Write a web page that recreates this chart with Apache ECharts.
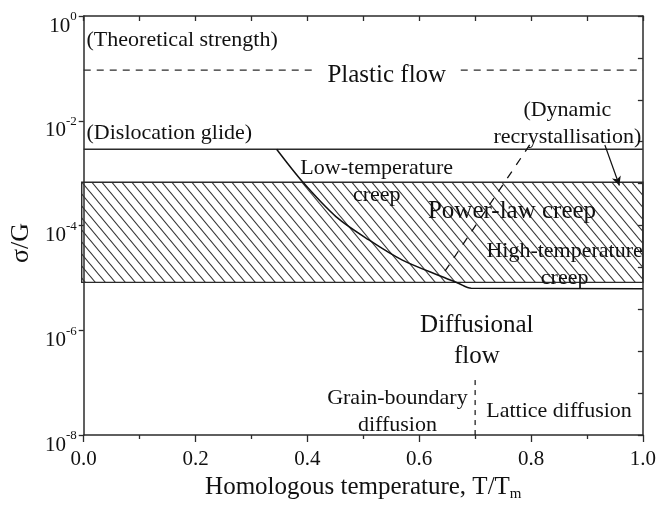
<!DOCTYPE html>
<html>
<head>
<meta charset="utf-8">
<script src="https://cdn.jsdelivr.net/npm/echarts@6/dist/echarts.min.js"></script>
<style>
  html, body { margin: 0; padding: 0; background: #fff; }
  #chart { width: 659px; height: 508px; }
</style>
</head>
<body>
<div id="chart"></div>
<script>
// Deformation-mechanism map: normalised stress sigma/G vs homologous temperature T/Tm

// x tick labels (homologous temperature)
const xTicks = [0.0, 0.2, 0.4, 0.6, 0.8, 1.0];

// Stress levels of the horizontal boundaries (sigma/G)
const theoreticalStrength = 0.093;
const glideLimit = 2.85e-3;

// Power-law creep field (hatched band): temperature range and stress range
const creepBandT = [0, 1];
const creepBandS = [8.2e-6, 6.7e-4];

// Boundary between low- and high-temperature creep / diffusional flow
const creepBoundaryT = [0.345, 0.391, 0.451, 0.510, 0.569, 0.640, 0.670, 0.693, 1.0];
const creepBoundaryS = [2.85e-3, 6.89e-4, 1.48e-4, 5.31e-5, 2.21e-5, 1.06e-5, 7.9e-6, 6.35e-6, 6.2e-6];

// Dynamic recrystallisation boundary (dashed)
const recrystT = [0.7975, 0.638];
const recrystS = [3.45e-3, 1.0e-5];

// Arrow from the recrystallisation note to the creep band
const arrowT = [0.932, 0.958];
const arrowS = [3.45e-3, 5.8e-4];

// Grain-boundary / lattice diffusion divide
const diffusionDivideT = [0.7, 0.7];
const diffusionDivideS = [1.12e-7, 1e-8];

// Field names and their anchor points (T/Tm, sigma/G)
const fieldNames = ['(Theoretical strength)', 'Plastic flow', '(Dislocation glide)',
  '(Dynamic\nrecrystallisation)', 'Low-temperature\ncreep', 'Power-law creep',
  'High-temperature\ncreep', 'Diffusional\nflow', 'Grain-boundary\ndiffusion', 'Lattice diffusion'];
const fieldT = [0.005, 0.542, 0.005, 0.865, 0.524, 0.766, 0.860, 0.703, 0.561, 0.850];
const fieldS = [0.348, 0.0748, 5.85e-3, 8.7e-3, 6.95e-4, 1.82e-4, 1.77e-5, 6.28e-7, 2.8e-8, 2.8e-8];
const majorFields = ['Plastic flow', 'Power-law creep', 'Diffusional\nflow'];
const leftAnchored = ['(Theoretical strength)', '(Dislocation glide)'];
const boxedFields = ['Plastic flow'];

const FONT = 'Liberation Serif';
const INK = '#111';
const LINE = '#2b2b2b';

function pairs(xs, ys) { return xs.map((x, i) => [x, ys[i]]); }

// diagonal hatch tile ("\\" stripes)
function hatchTile(w, h, color, lw) {
  const c = document.createElement('canvas');
  c.width = w; c.height = h;
  const ctx = c.getContext('2d');
  ctx.strokeStyle = color;
  ctx.lineWidth = lw;
  [-w, 0, w].forEach(dx => {
    ctx.beginPath();
    ctx.moveTo(dx - w, -h);
    ctx.lineTo(dx + 2 * w, 2 * h);
    ctx.stroke();
  });
  return c;
}
const hatch = { image: hatchTile(10, 12, '#333', 1.1), repeat: 'repeat' };

const chart = echarts.init(document.getElementById('chart'), null, { renderer: 'canvas' });

const labelData = fieldNames.map((name, i) => {
  const big = majorFields.includes(name);
  const left = leftAnchored.includes(name);
  const boxed = boxedFields.includes(name);
  return {
    value: [fieldT[i], fieldS[i]],
    label: {
      show: true,
      formatter: name,
      position: 'inside',
      align: left ? 'left' : 'center',
      verticalAlign: 'middle',
      fontFamily: FONT,
      fontSize: big ? 25 : 22,
      lineHeight: big ? 31 : 27,
      color: INK,
      opacity: 1,
      backgroundColor: boxed ? '#fff' : 'transparent',
      padding: boxed ? [0, 14, 0, 14] : 0
    }
  };
});

chart.setOption({
  animation: false,
  backgroundColor: '#fff',
  grid: { left: 83, right: 13, top: 16, bottom: 73, containLabel: false },
  xAxis: [
    {
      type: 'value', min: 0, max: 1, interval: 0.2, position: 'bottom',
      axisLine: { show: true, onZero: false, lineStyle: { color: LINE, width: 1.5 } },
      axisTick: { show: true, inside: false, length: 7, lineStyle: { color: LINE, width: 1.3 } },
      minorTick: { show: true, splitNumber: 2, length: 4, lineStyle: { color: LINE, width: 1.3 } },
      splitLine: { show: false },
      axisLabel: { formatter: v => v.toFixed(1), fontFamily: FONT, fontSize: 21, color: INK, margin: 14 },
      name: '{a|Homologous temperature, T/T}{m|m}',
      nameLocation: 'middle', nameGap: 38,
      nameTextStyle: {
        rich: {
          a: { fontFamily: FONT, fontSize: 25, color: INK },
          m: { fontFamily: FONT, fontSize: 15, color: INK, padding: [14, 0, 0, 0] }
        }
      }
    },
    {
      type: 'value', min: 0, max: 1, interval: 0.1, position: 'top',
      axisLine: { show: true, onZero: false, lineStyle: { color: LINE, width: 1.5 } },
      axisTick: { show: true, inside: true, length: 5, lineStyle: { color: LINE, width: 1.3 } },
      axisLabel: { show: false }, splitLine: { show: false }
    }
  ],
  yAxis: [
    {
      type: 'log', logBase: 10, min: 1e-8, max: 1, interval: 2, position: 'left',
      axisLine: { show: true, onZero: false, lineStyle: { color: LINE, width: 1.5 } },
      axisTick: { show: true, inside: false, length: 5, lineStyle: { color: LINE, width: 1.3 } },
      minorTick: { show: false },
      splitLine: { show: false },
      axisLabel: {
        margin: 7,
        padding: [20, 0, 0, 0],
        formatter: v => '{b|10}{s|' + Math.round(Math.log10(v)) + '}',
        rich: {
          b: { fontFamily: FONT, fontSize: 21, color: INK },
          s: { fontFamily: FONT, fontSize: 13, color: INK, padding: [0, 0, 18, 0] }
        }
      },
      name: 'σ/G', nameLocation: 'middle', nameGap: 45, nameRotate: 90,
      nameTextStyle: { fontFamily: FONT, fontSize: 26, color: INK, padding: [0, 35, 0, 0] }
    },
    {
      type: 'value', min: 0, max: 10, interval: 1, position: 'right',
      axisLine: { show: true, onZero: false, lineStyle: { color: LINE, width: 1.5 } },
      axisTick: { show: true, inside: true, length: 5, lineStyle: { color: LINE, width: 1.3 } },
      axisLabel: { show: false }, splitLine: { show: false }
    }
  ],
  series: [
    {
      // power-law creep field
      type: 'custom', name: 'Power-law creep field',
      encode: { x: [0, 1], y: [2, 3] },
      data: [[creepBandT[0], creepBandT[1], creepBandS[0], creepBandS[1]]],
      renderItem: (params, api) => {
        const tl = api.coord([api.value(0), api.value(3)]);
        const br = api.coord([api.value(1), api.value(2)]);
        return {
          type: 'rect',
          shape: { x: tl[0] - 2, y: tl[1], width: br[0] - tl[0] + 2, height: br[1] - tl[1] },
          style: { fill: hatch, stroke: LINE, lineWidth: 1.4 }
        };
      },
      z: 2
    },
    {
      type: 'line', name: 'Theoretical strength', showSymbol: false, symbol: 'none',
      data: [[0, theoreticalStrength], [1, theoreticalStrength]],
      lineStyle: { color: LINE, width: 1.3, type: [7, 6] }, z: 3
    },
    {
      type: 'line', name: 'Dislocation glide', showSymbol: false, symbol: 'none',
      data: [[0, glideLimit], [1, glideLimit]],
      lineStyle: { color: LINE, width: 1.4 }, z: 3
    },
    {
      type: 'line', name: 'Creep boundary', showSymbol: false, symbol: 'none', smooth: 0.3,
      data: pairs(creepBoundaryT, creepBoundaryS),
      lineStyle: { color: '#111', width: 1.5 }, z: 4
    },
    {
      type: 'line', name: 'Dynamic recrystallisation', showSymbol: false, symbol: 'none',
      data: pairs(recrystT, recrystS),
      lineStyle: { color: '#111', width: 1.3, type: [8, 8] }, z: 4,
      markLine: {
        silent: true, animation: false,
        symbol: ['none', 'arrow'], symbolSize: [7, 9],
        label: { show: false },
        lineStyle: { color: '#111', width: 1.2, type: 'solid', curveness: -0.25 },
        data: [[{ coord: [arrowT[0], arrowS[0]] }, { coord: [arrowT[1], arrowS[1]] }]]
      }
    },
    {
      type: 'line', name: 'Diffusion divide', showSymbol: false, symbol: 'none',
      data: pairs(diffusionDivideT, diffusionDivideS),
      lineStyle: { color: '#111', width: 1.2, type: [5, 5] }, z: 4
    },
    {
      type: 'scatter', name: 'Field names', symbolSize: 0, silent: true,
      itemStyle: { opacity: 1 },
      data: labelData, z: 5
    }
  ]
});
</script>
</body>
</html>
